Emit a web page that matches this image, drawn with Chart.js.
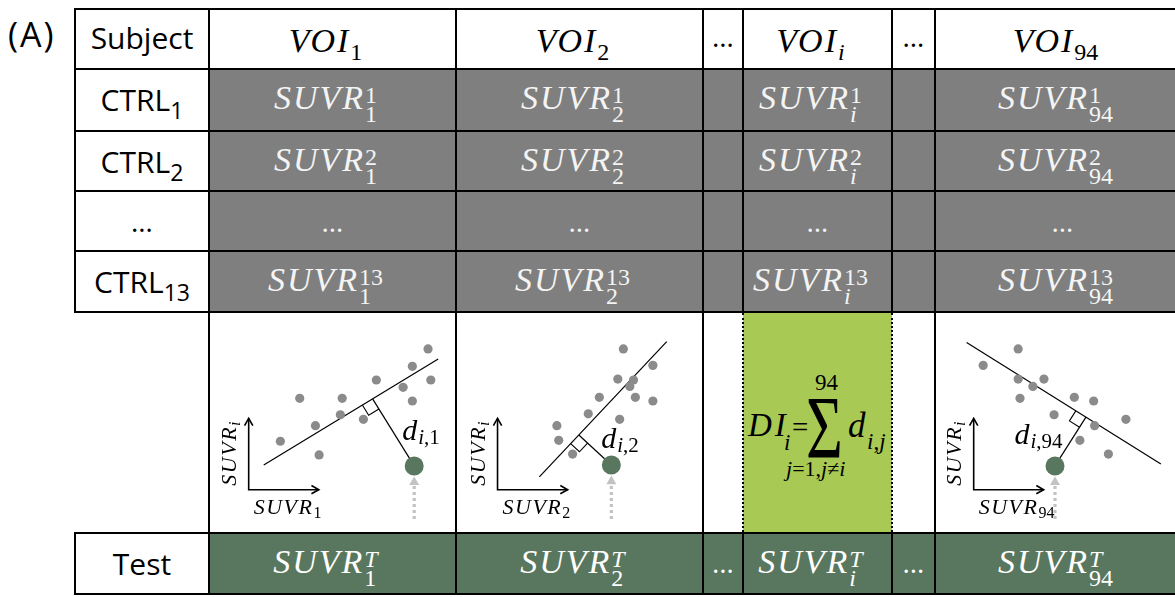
<!DOCTYPE html>
<html>
<head>
<meta charset="utf-8">
<script src="https://cdn.jsdelivr.net/npm/chart.js@4.4.1/dist/chart.umd.min.js"></script>
<style>
  html, body { margin: 0; padding: 0; background: #fff; }
  #fig { position: relative; width: 1175px; height: 597px; overflow: hidden; background: #fff; }
  #fig div { position: absolute; white-space: nowrap; }
  .sans { font-family: 'Open Sans', 'DejaVu Sans', sans-serif; }
  .mt { font-family: 'Liberation Serif', 'DejaVu Serif', serif; font-style: italic; letter-spacing: 2px; }
  .up { font-style: normal; }
  .sb { font-size: 24px; line-height: 1; vertical-align: -8px; letter-spacing: 0; }
  .ss { display: inline-block; vertical-align: -13px; font-size: 24px; line-height: 19px; letter-spacing: 0; text-align: left; }
  .ss > span { display: block; }
  .csub { font-size: 23px; line-height: 1; vertical-align: -8px; }
  canvas { position: absolute; }
</style>
</head>
<body>
<div id="fig"></div>
<script>
// ---------- table content ----------
const subjectNames = ['CTRL', 'CTRL', '…', 'CTRL'];
const subjectIdx   = ['1', '2', '', '13'];
const voiIdx       = ['1', '2', 'i', '94'];
const ctrlRowIdx   = ['1', '2', '…', '13'];
const testIdx      = 'T';

// ---------- control / test SUVR pairs for the three example scatter plots ----------
// VOI_1 vs VOI_i
const voi1CtrlX = [22.7, 21.0, 23.0, 17.1, 20.0, 21.0, 8.8, 13.4, 13.2, 15.7, 10.5, 6.7, 10.9];
const voi1CtrlY = [19.1, 17.2, 15.7, 15.7, 14.9, 13.4, 13.7, 13.7, 11.9, 11.4, 10.7, 9.0, 7.5];
const voi1FitX  = [4.9, 23.8];
const voi1FitY  = [6.4, 18.0];
const voi1Test  = [21.2, 6.3];
// VOI_2 vs VOI_i
const voi2CtrlX = [17.1, 20.3, 16.5, 18.2, 17.8, 14.5, 18.4, 20.3, 13.3, 16.7, 9.9, 10.1, 11.6];
const voi2CtrlY = [19.1, 17.3, 15.8, 15.7, 15.0, 13.8, 13.8, 13.4, 12.0, 11.4, 10.7, 9.1, 7.6];
const voi2FitX  = [8.0, 21.8];
const voi2FitY  = [5.1, 19.9];
const voi2Test  = [15.8, 6.4];
// VOI_94 vs VOI_i
const voi94CtrlX = [8.0, 4.2, 8.0, 10.8, 9.6, 8.2, 14.1, 16.2, 11.9, 19.7, 16.3, 14.7, 17.8];
const voi94CtrlY = [19.1, 17.3, 15.8, 15.8, 15.0, 13.7, 13.8, 13.4, 11.9, 11.4, 10.7, 9.1, 7.6];
const voi94FitX  = [2.4, 23.5];
const voi94FitY  = [19.8, 6.5];
const voi94Test  = [12.0, 6.3];

// ---------- layout ----------
const colX = [75, 209, 456, 703, 743, 892, 935, 1190];
const rowY = [9, 69, 131, 191, 251, 312, 533, 594];
const GRAY = '#7f7f7f', LIME = '#a9c955', GREEN = '#59775e', LIGHT = '#f4f4f4';
const fig = document.getElementById('fig');

function add(html, css, cls) {
  const d = document.createElement('div');
  if (cls) d.className = cls;
  d.style.cssText = css;
  d.innerHTML = html;
  fig.appendChild(d);
  return d;
}
function box(x0, y0, x1, y1, color) {
  add('', `left:${x0}px;top:${y0}px;width:${x1 - x0}px;height:${y1 - y0}px;background:${color};`);
}
const scr = s => s.split('').map(ch => /[0-9=,≠]/.test(ch) ? `<span class="up">${ch}</span>` : ch).join('');
const subOnly = (base, sub) => `${base}<span class="sb">${scr(sub)}</span>`;
const supSub = (base, sup, sub) => `${base}<span class="ss"><span>${scr(sup)}</span><span>${scr(sub)}</span></span>`;

// text placed on a baseline, centred in a column
function cellText(c, baseline, html, kind, color, dx) {
  const x0 = colX[c], x1 = colX[c + 1];
  const F = kind === 'math' ? 34 : (kind === 'dots' ? 28 : 30);
  const asc = kind === 'math' ? 0.8375 : 0.888;
  add(html, `left:${x0 + (dx || 0)}px;width:${x1 - x0}px;top:${baseline - asc * F}px;font-size:${F}px;line-height:${F}px;color:${color};text-align:center;`,
      kind === 'math' ? 'mt' : 'sans');
}
// serif text placed by its left edge and baseline
function serifAt(html, x, b, F, extra) {
  return add(html, `left:${x}px;top:${b - 0.8375 * F}px;font-size:${F}px;line-height:${F}px;${extra || ''}`, 'mt');
}

// ---------- cell fills ----------
box(colX[1], rowY[1], 1175, rowY[5], GRAY);
box(colX[4], rowY[5], colX[5], rowY[6], LIME);
box(colX[1], rowY[6], 1175, rowY[7], GREEN);

const voiCols = [1, 2, 4, 6];
const dotCols = [3, 5];

// header row
cellText(0, 50, 'Subject', 'sans', '#000');
voiCols.forEach((c, k) => cellText(c, 52, subOnly('VOI', voiIdx[k]), 'math', '#000', -7));
dotCols.forEach(c => cellText(c, 47, '…', 'dots', '#000'));

// control rows
for (let r = 0; r < 4; r++) {
  const top = rowY[r + 1];
  if (subjectNames[r] === '…') {
    cellText(0, top + 41, '…', 'dots', '#000');
    voiCols.forEach(c => cellText(c, top + 41, '…', 'dots', LIGHT));
  } else {
    cellText(0, top + 43, `${subjectNames[r]}<span class="csub">${subjectIdx[r]}</span>`, 'sans', '#000');
    voiCols.forEach((c, k) => cellText(c, top + 40, supSub('SUVR', ctrlRowIdx[r], voiIdx[k]), 'math', LIGHT, -7));
  }
}

// test row
cellText(0, rowY[6] + 43, 'Test', 'sans', '#000');
voiCols.forEach((c, k) => cellText(c, rowY[6] + 40, supSub('SUVR', testIdx, voiIdx[k]), 'math', '#fff', -7));
dotCols.forEach(c => cellText(c, rowY[6] + 40, '…', 'dots', '#fff'));

// panel tag
add('(A)', `left:8px;top:${47 - 0.888 * 34}px;font-size:34px;line-height:34px;letter-spacing:2px;color:#000;`, 'sans');

// ---------- deviation index formula ----------
serifAt('DI', 748, 437, 33, 'letter-spacing:3px;');
serifAt('i', 784, 450, 23);
serifAt('=', 792, 437, 29, 'font-style:normal;');
serifAt('Σ', 806, 458, 88, 'font-style:normal;transform:scaleX(0.72);transform-origin:0 0;');
serifAt('94', 815, 390, 23, 'font-style:normal;letter-spacing:0;');
serifAt(scr('j=1,j≠i'), 786, 476, 22, 'letter-spacing:0;');
serifAt('d', 848, 437, 35);
serifAt(scr('i,j'), 867, 449, 23, 'letter-spacing:0;');

// ---------- scatter plots ----------
const PX = 10; // pixels per data unit (same on both axes so right angles stay square)
const CELL_H = rowY[6] - rowY[5];

function drawScatter(c, p) {
  const left = colX[c], width = Math.min(colX[c + 1], 1175) - left;
  const cv = document.createElement('canvas');
  cv.width = width; cv.height = CELL_H;
  cv.style.left = left + 'px'; cv.style.top = rowY[5] + 'px';
  fig.appendChild(cv);

  const [tx, ty] = p.test;
  const ux0 = p.fx[1] - p.fx[0], uy0 = p.fy[1] - p.fy[0];
  const L = Math.hypot(ux0, uy0), ux = ux0 / L, uy = uy0 / L;
  const t = (tx - p.fx[0]) * ux + (ty - p.fy[0]) * uy;
  const foot = { x: p.fx[0] + t * ux, y: p.fy[0] + t * uy };
  const nl = Math.hypot(tx - foot.x, ty - foot.y);
  const nx = (tx - foot.x) / nl, ny = (ty - foot.y) / nl;
  const s = 1.3;
  const corner = [
    { x: foot.x - s * ux, y: foot.y - s * uy },
    { x: foot.x - s * ux + s * nx, y: foot.y - s * uy + s * ny },
    { x: foot.x + s * nx, y: foot.y + s * ny }
  ];
  const ax = p.frameX, ay = 3.7, aTop = ay + 7.8, aRight = ax + 7.6;
  const tip = ty - 1.2, headY = tip - 0.58;

  const line = (data, w, order, extra) => Object.assign({
    data, showLine: true, borderColor: '#000', borderWidth: w, pointRadius: 0, order
  }, extra || {});

  const chart = new Chart(cv, {
    type: 'scatter',
    data: {
      datasets: [
        { data: [{ x: tx, y: ty }], pointRadius: 9.5, pointBackgroundColor: GREEN, pointBorderWidth: 0, order: 0 },
        { data: p.cx.map((x, i) => ({ x, y: p.cy[i] })), pointRadius: 4.6, pointBackgroundColor: '#8b8b8b', pointBorderWidth: 0, order: 1 },
        { data: [{ x: tx, y: headY }], pointStyle: 'triangle', pointRadius: 5.8, pointBackgroundColor: '#c3c3c3', pointBorderWidth: 0, order: 2 },
        line([{ x: tx, y: 0.5 }, { x: tx, y: headY - 0.25 }], 3.2, 3, { borderColor: '#c3c3c3', borderDash: [3, 3] }),
        line(p.fx.map((x, i) => ({ x, y: p.fy[i] })), 1.2, 4),
        line([{ x: tx, y: ty }, foot], 1.2, 4),
        line(corner, 1.1, 4),
        line([{ x: ax, y: aTop }, { x: ax, y: ay }, { x: aRight, y: ay }], 1.6, 4),
        line([{ x: ax - 0.45, y: aTop - 0.8 }, { x: ax, y: aTop }, { x: ax + 0.45, y: aTop - 0.8 }], 1.6, 4),
        line([{ x: aRight - 0.8, y: ay + 0.45 }, { x: aRight, y: ay }, { x: aRight - 0.8, y: ay - 0.45 }], 1.6, 4)
      ]
    },
    options: {
      responsive: false, animation: false, devicePixelRatio: 1, events: [],
      layout: { padding: 0 },
      scales: {
        x: { type: 'linear', display: false, min: 0, max: width / PX },
        y: { type: 'linear', display: false, min: 0, max: CELL_H / PX }
      },
      plugins: { legend: { display: false }, tooltip: { enabled: false } }
    }
  });

  const X = v => left + chart.scales.x.getPixelForValue(v);
  const Y = v => rowY[5] + chart.scales.y.getPixelForValue(v);
  const cxp = X(ax), cyp = Y(ay);

  // axis titles
  serifAt(`SUVR<span class="sb" style="font-size:16px;vertical-align:-4px;">${scr(p.xIdx)}</span>`,
          cxp + 5, cyp + 25, 22, 'letter-spacing:1.5px;');
  const F = 22, bl = 0.8375 * F;
  add(`SUVR<span class="sb" style="font-size:16px;vertical-align:-4px;">i</span>`,
      `left:0;top:0;font-size:${F}px;line-height:${F}px;letter-spacing:1.5px;transform-origin:0 0;transform:translate(${cxp - 12 - bl}px,${cyp - 4}px) rotate(-90deg);`, 'mt');
  // distance label
  serifAt(`d<span class="sb" style="font-size:21px;vertical-align:-4px;">${scr('i,' + p.xIdx)}</span>`,
          X(p.dAt[0]), Y(p.dAt[1]), 30, 'letter-spacing:1px;');
}

drawScatter(1, { cx: voi1CtrlX, cy: voi1CtrlY, fx: voi1FitX, fy: voi1FitY, test: voi1Test, xIdx: '1', frameX: 3.27, dAt: [19.9, 9.1] });
drawScatter(2, { cx: voi2CtrlX, cy: voi2CtrlY, fx: voi2FitX, fy: voi2FitY, test: voi2Test, xIdx: '2', frameX: 3.47, dAt: [14.7, 8.2] });
drawScatter(6, { cx: voi94CtrlX, cy: voi94CtrlY, fx: voi94FitX, fy: voi94FitY, test: voi94Test, xIdx: '94', frameX: 3.17, dAt: [7.6, 8.7] });

// ---------- grid lines ----------
function hLine(y, x0, x1) { box(x0, y - 1, x1, y + 1, '#000'); }
function vLine(x, y0, y1) { box(x - 1, y0, x + 1, y1, '#000'); }
function vDot(x, y0, y1) {
  add('', `left:${x - 1}px;top:${y0}px;width:0;height:${y1 - y0}px;border-left:2px dotted #000;`);
}
rowY.forEach(y => hLine(y, colX[0] - 1, 1175));
vLine(colX[0], rowY[0] - 1, rowY[5] + 1);
vLine(colX[0], rowY[6] - 1, rowY[7] + 1);
[1, 2, 3, 6].forEach(c => vLine(colX[c], rowY[0] - 1, rowY[7] + 1));
[4, 5].forEach(c => {
  vLine(colX[c], rowY[0] - 1, rowY[5] + 1);
  vDot(colX[c], rowY[5] + 1, rowY[6] - 1);
  vLine(colX[c], rowY[6] - 1, rowY[7] + 1);
});
</script>
</body>
</html>
